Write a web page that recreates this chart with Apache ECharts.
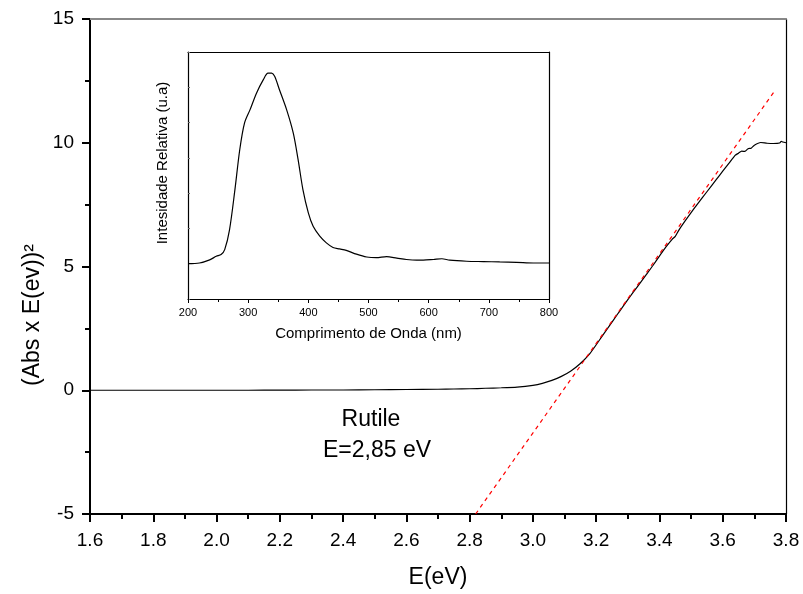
<!DOCTYPE html>
<html>
<head>
<meta charset="utf-8">
<script src="https://cdn.jsdelivr.net/npm/echarts@6/dist/echarts.min.js"></script>
<style>html,body{margin:0;padding:0;background:#fff;}#c{width:803px;height:594px;}</style>
</head>
<body>
<div id="c"></div>
<script>
// Main curve: E (eV) vs (Abs x E)^2
var mainX = [1.60,1.70,1.80,1.90,2.00,2.10,2.20,2.30,2.40,2.50,2.60,2.70,2.75,2.80,2.85,2.90,2.95,3.00,3.03,3.06,3.09,3.12,3.15,3.18,3.21,3.24,3.27,3.30,3.33,3.36,3.38,3.40,3.42,3.44,3.45,3.46,3.48,3.50,3.52,3.55,3.58,3.60,3.62,3.64,3.65,3.66,3.67,3.68,3.69,3.70,3.72,3.74,3.76,3.78,3.785,3.79,3.80];
var mainY = [0.00,0.00,0.00,0.00,0.00,0.00,0.005,0.01,0.01,0.02,0.03,0.04,0.05,0.06,0.08,0.10,0.13,0.20,0.28,0.40,0.56,0.78,1.08,1.48,2.02,2.57,3.12,3.66,4.18,4.70,5.05,5.42,5.78,6.10,6.22,6.44,6.82,7.18,7.52,8.02,8.52,8.85,9.18,9.50,9.58,9.66,9.65,9.76,9.78,9.90,10.01,9.98,9.97,9.99,10.06,10.03,10.00];
// Linear fit (red dashed)
var fitX = [2.819, 3.764];
var fitY = [-5, 12.09];
// Inset: emission spectrum
var insetX = [200,219,236,247,255,261,269,278,286,294,303,314,325,333,339,344,352,364,375,383,391,400,408,419,430,441,452,463,480,497,513,530,547,563,580,591,608,622,635,663,691,718,746,774,800];
var insetY = [1.00,1.02,1.11,1.21,1.26,1.40,1.96,3.10,4.23,4.99,5.36,5.84,6.21,6.40,6.40,6.31,5.93,5.36,4.70,3.95,3.10,2.44,2.06,1.78,1.59,1.46,1.42,1.38,1.27,1.19,1.17,1.20,1.16,1.12,1.10,1.10,1.12,1.14,1.10,1.07,1.06,1.05,1.04,1.02,1.02];
var xTicks = ['1.6','1.8','2.0','2.2','2.4','2.6','2.8','3.0','3.2','3.4','3.6','3.8'];
var yTicks = ['-5','0','5','10','15'];
var texts = ['Rutile', 'E=2,85 eV'];

function zip(a, b) { return a.map(function (v, i) { return [v, b[i]]; }); }
var FF = '"Liberation Sans", Arial, sans-serif';
var chart = echarts.init(document.getElementById('c'), null, {renderer: 'canvas'});
chart.setOption({
  animation: false,
  backgroundColor: '#fff',
  grid: [
    {left: 90, top: 19, width: 696, height: 495},
    {left: 188, top: 52, width: 361, height: 247, show: true, backgroundColor: '#fff', borderWidth: 0}
  ],
  xAxis: [
    {gridIndex: 0, type: 'value', min: 1.6, max: 3.8, interval: 0.2,
      axisLine: {onZero: false, lineStyle: {color: '#000', width: 2}},
      axisTick: {inside: false, length: 8, lineStyle: {color: '#000', width: 2}},
      minorTick: {show: true, splitNumber: 2, length: 5, lineStyle: {color: '#000', width: 2}},
      splitLine: {show: false},
      axisLabel: {color: '#000', fontSize: 19, fontFamily: FF, margin: 17,
        formatter: function (v) { return v.toFixed(1); }}},
    {gridIndex: 0, type: 'value', position: 'top', min: 1.6, max: 3.8,
      axisLine: {onZero: false, lineStyle: {color: '#888', width: 2}},
      axisTick: {show: false}, axisLabel: {show: false}, splitLine: {show: false}},
    {gridIndex: 1, type: 'value', min: 200, max: 800, interval: 100,
      axisLine: {onZero: false, lineStyle: {color: '#000', width: 1.2}},
      axisTick: {inside: false, length: 4, lineStyle: {color: '#000'}},
      minorTick: {show: true, splitNumber: 2, length: 3, lineStyle: {color: '#000'}},
      splitLine: {show: false},
      axisLabel: {color: '#000', fontSize: 11, fontFamily: FF, margin: 8},
      name: 'Comprimento de Onda (nm)', nameLocation: 'middle', nameGap: 27,
      nameTextStyle: {color: '#000', fontSize: 15, fontFamily: FF}},
    {gridIndex: 1, type: 'value', position: 'top', min: 200, max: 800,
      axisLine: {onZero: false, lineStyle: {color: '#000', width: 1.2}},
      axisTick: {show: false}, axisLabel: {show: false}, splitLine: {show: false}}
  ],
  yAxis: [
    {gridIndex: 0, type: 'value', min: -5, max: 15, interval: 5,
      axisLine: {onZero: false, lineStyle: {color: '#000', width: 2}},
      axisTick: {inside: false, length: 8, lineStyle: {color: '#000', width: 2}},
      minorTick: {show: true, splitNumber: 2, length: 5, lineStyle: {color: '#000', width: 2}},
      splitLine: {show: false},
      axisLabel: {color: '#000', fontSize: 19, fontFamily: FF, margin: 16}},
    {gridIndex: 0, type: 'value', position: 'right', min: -5, max: 15,
      axisLine: {show: true, onZero: false, lineStyle: {color: '#000', width: 1.2}},
      axisTick: {show: false}, axisLabel: {show: false}, splitLine: {show: false}},
    {gridIndex: 1, type: 'value', min: 0, max: 7, interval: 1,
      axisLine: {onZero: false, lineStyle: {color: '#000', width: 1.2}},
      axisTick: {inside: true, length: 2, lineStyle: {color: '#666'}},
      splitLine: {show: false}, axisLabel: {show: false}},
    {gridIndex: 1, type: 'value', position: 'right', min: 0, max: 7,
      axisLine: {show: true, onZero: false, lineStyle: {color: '#000', width: 1.2}},
      axisTick: {show: false}, axisLabel: {show: false}, splitLine: {show: false}}
  ],
  series: [
    {type: 'line', xAxisIndex: 0, yAxisIndex: 0, data: zip(mainX, mainY), showSymbol: false,
      smooth: 0.2, lineStyle: {color: '#000', width: 1.2}},
    {type: 'line', xAxisIndex: 0, yAxisIndex: 0, data: zip(fitX, fitY), showSymbol: false,
      lineStyle: {color: '#ff0000', width: 1.2, type: [4, 4]}},
    {type: 'line', xAxisIndex: 2, yAxisIndex: 2, data: zip(insetX, insetY), showSymbol: false,
      smooth: 0.3, lineStyle: {color: '#000', width: 1.2}}
  ],
  graphic: [
    {type: 'text', x: 371, y: 420, style: {text: texts[0], fontSize: 23, fontFamily: FF, fill: '#000', textAlign: 'center', textVerticalAlign: 'middle'}},
    {type: 'text', x: 377, y: 451, style: {text: texts[1], fontSize: 23, fontFamily: FF, fill: '#000', textAlign: 'center', textVerticalAlign: 'middle'}},
    {type: 'text', x: 438, y: 578, style: {text: 'E(eV)', fontSize: 23, fontFamily: FF, fill: '#000', textAlign: 'center', textVerticalAlign: 'middle'}},
    {type: 'text', x: 33, y: 315, rotation: Math.PI / 2, style: {text: '(Abs x E(ev))²', fontSize: 23, fontFamily: FF, fill: '#000', textAlign: 'center', textVerticalAlign: 'middle'}},
    {type: 'text', x: 163, y: 163, rotation: Math.PI / 2, style: {text: 'Intesidade Relativa (u.a)', fontSize: 15, fontFamily: FF, fill: '#000', textAlign: 'center', textVerticalAlign: 'middle'}}
  ]
});
</script>
</body>
</html>
